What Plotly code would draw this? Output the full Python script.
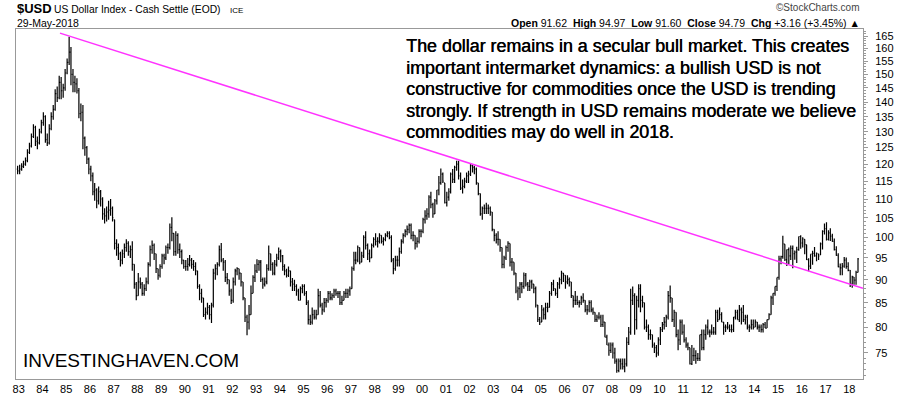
import numpy as np
import pandas as pd
import plotly.graph_objects as go

# ---------------- data (monthly bars, Dec-1982 .. May-2018) ----------------
START_MONTH = "1982-12"
FIRST_OPEN = 118.5

CLOSE = [
    118.0,
    118.5, 119.3, 120.0, 121.0, 123.5, 125.5, 128.5, 131.5, 127.0, 126.5, 130.0, 133.0,  # 1983
    135.0, 127.5, 126.5, 131.0, 135.0, 137.5, 143.0, 141.5, 147.0, 144.0, 145.0, 150.5,  # 1984
    154.5, 158.5, 150.0, 147.0, 146.5, 144.0, 136.0, 136.5, 128.0, 125.0, 121.5, 118.5,  # 1985
    116.5, 112.0, 112.5, 109.5, 112.0, 110.0, 106.0, 105.5, 106.5, 107.0, 107.5, 105.0,  # 1986
    98.5, 97.5, 96.0, 94.5, 96.0, 97.5, 98.5, 96.5, 97.0, 93.5, 89.0, 86.5,              # 1987
    89.5, 89.0, 87.0, 88.0, 89.5, 93.5, 97.0, 98.0, 96.0, 92.5, 91.0, 93.0,              # 1988
    95.5, 95.0, 97.5, 97.5, 102.5, 101.0, 96.5, 100.5, 97.0, 96.5, 94.5, 93.0,           # 1989
    93.0, 93.5, 94.5, 93.5, 93.0, 92.0, 88.5, 87.0, 86.0, 82.5, 83.0, 84.0,              # 1990
    82.5, 84.5, 91.5, 92.5, 93.5, 97.0, 94.5, 94.0, 90.5, 90.0, 87.5, 85.5,              # 1991
    89.5, 92.0, 92.5, 91.5, 89.5, 86.0, 82.0, 81.0, 82.5, 87.0, 90.5, 92.0,              # 1992
    93.5, 94.0, 90.0, 89.0, 89.5, 92.5, 96.0, 93.5, 91.5, 93.5, 95.0, 96.5,              # 1993
    95.5, 93.0, 92.0, 91.0, 92.0, 89.5, 89.0, 88.5, 87.5, 85.5, 88.0, 88.5,              # 1994
    87.0, 85.0, 81.5, 81.0, 82.5, 82.0, 82.5, 86.5, 84.5, 83.5, 85.0, 85.5,              # 1995
    87.0, 86.0, 86.5, 87.5, 87.0, 87.0, 85.0, 85.5, 87.0, 87.0, 87.5, 88.0,              # 1996
    92.5, 94.5, 94.5, 97.5, 94.0, 95.5, 100.0, 98.0, 96.0, 95.0, 98.0, 99.5,             # 1997
    99.0, 99.0, 100.5, 99.0, 99.5, 100.5, 101.0, 100.0, 94.5, 92.5, 94.5, 94.5,          # 1998
    96.5, 99.0, 100.5, 101.5, 102.0, 103.0, 100.5, 100.5, 98.5, 99.0, 101.5, 101.5,      # 1999
    104.5, 105.5, 106.0, 110.5, 108.5, 106.0, 109.5, 112.5, 114.5, 117.0, 115.0, 109.0,  # 2000
    110.5, 112.0, 117.0, 115.5, 119.0, 120.0, 116.5, 113.0, 113.5, 115.0, 116.5, 117.0,  # 2001
    119.5, 119.0, 118.5, 114.5, 111.5, 106.0, 107.5, 107.5, 107.5, 107.5, 106.5, 102.0,  # 2002
    100.5, 99.5, 99.5, 97.5, 93.5, 95.0, 97.5, 98.5, 94.0, 94.0, 91.5, 87.5,             # 2003
    88.0, 89.0, 88.5, 91.0, 89.0, 88.5, 89.5, 89.0, 88.0, 84.5, 81.5, 81.0,              # 2004
    83.5, 82.5, 84.0, 84.0, 87.0, 89.0, 88.0, 87.0, 89.0, 90.0, 91.5, 91.0,              # 2005
    89.5, 90.0, 89.5, 86.5, 85.5, 85.5, 85.0, 85.0, 86.0, 85.5, 83.5, 83.5,              # 2006
    85.0, 83.5, 83.0, 81.5, 82.0, 82.0, 80.5, 81.0, 78.0, 76.5, 75.5, 76.5,              # 2007
    75.0, 73.5, 71.8, 73.5, 73.0, 72.5, 73.0, 77.0, 79.0, 85.5, 86.5, 81.5,              # 2008
    85.5, 88.0, 85.5, 85.0, 80.0, 80.0, 78.5, 78.5, 76.5, 76.0, 75.0, 77.5,              # 2009
    79.5, 80.5, 81.0, 82.0, 86.5, 86.0, 81.5, 83.0, 78.5, 77.5, 81.0, 79.0,              # 2010
    77.5, 76.5, 76.0, 73.0, 74.5, 74.5, 74.0, 74.0, 78.5, 76.0, 78.5, 80.0,              # 2011
    79.0, 79.0, 79.0, 79.0, 83.0, 81.5, 82.5, 81.0, 80.0, 80.0, 80.0, 79.5,              # 2012
    79.5, 82.0, 83.0, 81.5, 83.5, 83.0, 81.5, 82.0, 80.0, 80.0, 80.5, 80.0,              # 2013
    81.0, 80.0, 80.0, 79.5, 80.5, 79.8, 81.5, 82.5, 86.0, 87.0, 88.5, 90.5,              # 2014
    94.8, 95.3, 98.4, 94.6, 97.0, 95.5, 97.3, 96.0, 96.4, 97.0, 100.2, 98.6,             # 2015
    99.6, 98.2, 94.6, 93.1, 95.9, 96.1, 95.5, 96.0, 95.4, 98.4, 101.5, 102.2,            # 2016
    99.5, 101.1, 100.3, 99.0, 97.0, 95.6, 92.9, 92.7, 93.1, 94.5, 93.0, 92.1,            # 2017
    89.1, 90.6, 89.9, 91.62, 94.79,                                                      # 2018
]

HIGH = [
    119.5,
    119.8, 120.2, 121.0, 122.0, 124.5, 126.5, 129.5, 132.5, 132.0, 128.5, 131.0, 134.0,
    136.5, 135.5, 129.5, 132.5, 136.5, 139.0, 144.5, 145.5, 149.5, 149.0, 146.5, 152.0,
    156.0, 164.7, 160.5, 152.0, 149.5, 148.5, 145.0, 139.5, 139.0, 128.5, 125.5, 122.0,
    119.5, 117.5, 114.5, 113.0, 113.5, 112.5, 110.5, 107.5, 108.0, 109.5, 110.0, 108.0,
    104.5, 99.5, 98.5, 96.5, 97.0, 98.5, 99.5, 99.0, 98.0, 99.0, 93.5, 89.5,
    91.5, 90.5, 89.5, 89.0, 90.5, 94.0, 98.0, 99.2, 98.5, 96.0, 92.5, 93.5,
    96.0, 96.0, 98.0, 98.5, 103.5, 105.1, 101.0, 101.5, 101.0, 98.5, 97.0, 94.5,
    94.5, 95.0, 95.7, 95.0, 94.5, 94.0, 92.0, 89.0, 88.0, 86.0, 84.0, 85.0,
    84.5, 85.0, 92.5, 93.5, 94.0, 98.0, 98.6, 95.0, 94.5, 91.5, 90.0, 88.0,
    90.5, 92.5, 92.8, 92.5, 91.5, 89.5, 86.0, 82.5, 84.5, 88.7, 91.0, 93.5,
    94.7, 94.5, 94.5, 90.5, 90.5, 93.5, 98.0, 96.0, 94.0, 94.5, 96.0, 97.5,
    97.0, 95.7, 93.5, 92.5, 93.0, 92.0, 90.4, 90.0, 89.0, 88.0, 88.5, 89.0,
    89.0, 87.5, 85.5, 82.5, 84.0, 83.5, 83.5, 88.0, 87.5, 85.0, 86.0, 86.0,
    87.5, 87.5, 87.0, 88.0, 88.0, 87.5, 87.5, 86.5, 87.5, 88.0, 88.0, 88.5,
    93.0, 96.5, 96.5, 98.0, 97.5, 96.5, 100.5, 101.5, 98.5, 97.0, 98.5, 100.0,
    101.0, 100.0, 101.0, 100.5, 100.0, 101.0, 101.5, 101.5, 100.5, 95.0, 95.5, 95.5,
    97.5, 99.5, 101.0, 102.0, 103.0, 103.5, 103.5, 101.5, 100.5, 100.0, 102.0, 102.0,
    105.0, 107.0, 107.5, 111.0, 112.0, 109.0, 110.0, 112.5, 116.5, 118.7, 117.5, 114.5,
    112.0, 113.0, 117.5, 118.5, 119.5, 121.0, 121.0, 117.5, 115.5, 116.0, 117.5, 118.0,
    120.2, 120.0, 119.5, 119.0, 114.5, 111.5, 108.0, 108.5, 109.0, 108.5, 108.0, 106.5,
    102.0, 101.0, 101.5, 99.5, 97.5, 95.5, 98.0, 99.0, 98.5, 95.0, 94.0, 91.5,
    88.5, 89.5, 89.5, 91.6, 91.5, 89.5, 90.0, 90.0, 89.0, 88.5, 84.5, 82.0,
    84.5, 84.0, 85.0, 85.0, 87.5, 89.5, 90.0, 88.0, 89.5, 90.5, 92.0, 91.5,
    91.0, 91.0, 90.5, 89.5, 86.5, 87.5, 86.5, 85.5, 86.5, 87.0, 85.5, 84.5,
    85.5, 85.5, 84.0, 83.0, 82.5, 83.0, 82.5, 82.5, 81.0, 78.5, 77.0, 77.0,
    77.0, 76.0, 74.0, 74.0, 74.0, 74.0, 74.0, 78.0, 80.0, 88.0, 88.5, 87.0,
    86.5, 89.0, 89.0, 86.5, 85.0, 81.5, 80.5, 79.5, 78.5, 77.0, 76.5, 78.0,
    80.0, 81.0, 82.0, 82.5, 87.5, 88.7, 86.0, 83.5, 83.0, 79.5, 81.5, 81.5,
    80.5, 78.0, 77.0, 76.0, 76.5, 76.0, 75.5, 75.0, 78.5, 79.5, 79.5, 80.5,
    81.5, 79.5, 80.5, 80.0, 83.5, 83.5, 84.0, 83.0, 81.0, 80.5, 81.0, 80.5,
    80.5, 82.0, 83.5, 83.5, 84.5, 84.0, 84.5, 82.5, 82.5, 80.5, 81.5, 81.5,
    81.5, 81.0, 80.5, 80.5, 80.8, 81.0, 81.5, 82.8, 86.5, 87.0, 88.5, 90.5,
    95.5, 95.5, 100.4, 98.3, 97.0, 97.5, 98.0, 98.0, 96.8, 97.7, 100.2, 100.5,
    100.0, 99.5, 98.2, 94.9, 95.9, 96.7, 97.6, 96.3, 96.0, 98.7, 101.8, 103.5,
    103.8, 101.8, 102.3, 100.9, 99.7, 97.8, 96.1, 93.7, 93.8, 95.2, 95.1, 94.0,
    92.2, 90.9, 90.6, 92.0, 94.97,
]

LOW = [
    117.0,
    117.0, 118.0, 118.8, 119.5, 120.5, 123.0, 125.0, 128.0, 125.5, 124.5, 126.0, 129.5,
    132.0, 126.5, 125.5, 126.0, 130.5, 134.0, 137.0, 140.0, 141.0, 141.0, 141.5, 144.0,
    150.0, 153.5, 146.0, 143.5, 143.5, 143.0, 134.5, 133.5, 124.5, 122.5, 120.0, 117.0,
    115.0, 111.0, 109.5, 107.5, 108.5, 108.0, 104.5, 103.5, 104.0, 104.5, 105.5, 104.0,
    97.0, 95.5, 94.5, 93.0, 93.5, 95.0, 96.5, 95.5, 95.0, 92.0, 88.0, 85.5,
    86.5, 88.0, 86.5, 86.5, 87.5, 89.0, 93.0, 96.0, 94.5, 91.5, 90.0, 90.5,
    92.5, 93.5, 94.5, 96.0, 97.0, 99.0, 95.5, 95.5, 96.0, 95.0, 93.5, 92.5,
    92.0, 92.0, 93.0, 92.5, 92.0, 91.0, 88.0, 85.5, 85.0, 82.0, 81.5, 82.5,
    81.5, 80.8, 84.0, 90.0, 91.0, 93.0, 94.0, 92.0, 89.5, 89.0, 86.5, 84.7,
    85.0, 88.7, 91.0, 90.0, 88.5, 85.5, 81.0, 78.4, 79.5, 82.5, 87.0, 89.5,
    91.5, 92.0, 89.5, 88.0, 88.5, 89.0, 92.0, 92.0, 91.0, 91.0, 93.0, 94.5,
    94.0, 92.0, 91.0, 90.5, 90.6, 88.5, 87.5, 87.5, 86.5, 85.5, 85.5, 87.0,
    86.5, 84.5, 80.5, 80.4, 80.5, 81.5, 81.5, 82.5, 84.0, 82.5, 83.0, 84.0,
    85.0, 85.5, 85.5, 86.0, 86.5, 86.0, 84.5, 84.5, 85.5, 86.0, 86.0, 86.5,
    88.0, 92.0, 93.5, 94.0, 93.5, 94.0, 95.0, 97.0, 94.5, 94.0, 95.0, 97.5,
    98.0, 97.5, 98.5, 98.5, 98.0, 99.0, 100.0, 99.5, 94.0, 91.2, 92.0, 93.0,
    93.0, 96.0, 98.5, 100.0, 100.5, 101.0, 99.5, 99.0, 97.0, 97.5, 98.5, 100.0,
    101.0, 103.5, 104.5, 105.0, 107.5, 105.0, 106.0, 108.5, 111.0, 114.0, 114.5, 108.8,
    108.0, 109.5, 111.5, 114.5, 114.5, 118.0, 115.5, 112.5, 111.5, 113.0, 114.5, 114.5,
    116.5, 117.5, 117.0, 114.0, 111.0, 105.5, 104.5, 106.0, 106.0, 106.0, 105.5, 101.5,
    99.0, 98.5, 98.0, 96.5, 92.6, 92.6, 94.5, 96.5, 93.0, 92.0, 91.0, 87.0,
    85.5, 86.0, 87.0, 88.0, 88.5, 87.5, 87.5, 88.0, 87.0, 84.0, 81.0, 80.4,
    81.0, 81.5, 81.5, 83.0, 84.0, 86.5, 87.5, 86.5, 86.0, 88.0, 89.0, 89.5,
    88.0, 89.0, 88.5, 86.0, 84.0, 84.5, 84.5, 84.0, 84.5, 85.0, 83.0, 82.5,
    83.0, 83.0, 82.5, 81.0, 81.0, 81.5, 80.0, 80.0, 78.0, 76.5, 74.5, 75.0,
    74.0, 73.0, 71.4, 71.5, 72.0, 72.0, 71.5, 72.5, 76.5, 78.5, 84.5, 78.5,
    79.5, 84.0, 83.0, 84.0, 79.5, 79.0, 77.5, 77.5, 76.0, 75.0, 74.2, 74.5,
    76.5, 79.0, 79.5, 80.0, 81.5, 85.0, 81.0, 80.0, 78.0, 75.5, 76.5, 78.5,
    77.0, 76.0, 75.5, 72.9, 72.8, 73.5, 73.0, 73.5, 73.5, 75.5, 75.5, 77.5,
    78.5, 78.0, 78.5, 78.5, 78.5, 81.0, 81.5, 81.0, 78.5, 79.0, 79.5, 79.0,
    78.9, 79.0, 81.5, 81.5, 81.0, 80.5, 81.0, 80.5, 79.5, 79.0, 79.5, 79.5,
    80.0, 79.5, 79.0, 78.9, 78.9, 79.8, 79.8, 81.5, 82.5, 84.5, 86.5, 87.5,
    90.0, 93.5, 94.8, 94.3, 93.1, 93.5, 94.5, 92.6, 94.6, 93.8, 96.7, 97.2,
    97.5, 95.9, 94.5, 91.9, 92.4, 93.4, 95.3, 94.2, 94.5, 95.7, 97.0, 100.7,
    99.2, 99.2, 99.1, 98.9, 96.8, 95.5, 92.8, 91.0, 91.0, 92.7, 92.5, 91.9,
    88.4, 88.2, 88.9, 88.9, 91.60,
]

YEAR_TICKS = list(range(1983, 2019))
Y_TICKS = list(range(75, 170, 5))

# Trend line (resistance) endpoints
TREND_DATES = ["1984-09-27", "2018-07-31"]
TREND_VALUES = [166.2, 88.1]

NOTE_LINES = [
    "The dollar remains in a secular bull market. This creates",
    "important intermarket dynamics: a bullish USD is not",
    "constructive for commodities once the USD is trending",
    "strongly. If strength in USD remains moderate we believe",
    "commodities may do well in 2018.",
]

# ---------------- build ----------------
n = len(CLOSE)
dates = pd.date_range(START_MONTH + "-01", periods=n, freq="MS") + pd.Timedelta(days=14)
close = np.array(CLOSE)
high = np.array(HIGH)
low = np.array(LOW)
opens = np.concatenate([[FIRST_OPEN], close[:-1]])
opens = np.clip(opens, low, high)

FONT = "Arial, 'Liberation Sans', sans-serif"

fig = go.Figure()
fig.add_trace(go.Ohlc(
    x=dates, open=opens, high=high, low=low, close=close,
    increasing=dict(line=dict(color="black", width=1.2)),
    decreasing=dict(line=dict(color="black", width=1.2)),
    tickwidth=0.45, hoverinfo="skip", showlegend=False,
))
fig.add_trace(go.Scatter(
    x=TREND_DATES, y=TREND_VALUES, mode="lines",
    line=dict(color="#ff33ff", width=1.5), hoverinfo="skip", showlegend=False,
))

W, H = 900, 396
L, R, T, B = 16, 863, 29, 379


def px(xp):
    return (xp - L) / (R - L)


def py(yp):
    return (B - yp) / (B - T)


ann = []
ann.append(dict(x=px(15), y=py(9), text="<b>$USD</b>", font=dict(size=13, family=FONT, color="black"),
                xanchor="left", yanchor="middle"))
ann.append(dict(x=px(52), y=py(9.5), text="US Dollar Index - Cash Settle (EOD)",
                font=dict(size=10.3, family=FONT, color="black"), xanchor="left", yanchor="middle"))
ann.append(dict(x=px(228), y=py(10), text="ICE", font=dict(size=8, family=FONT, color="black"),
                xanchor="left", yanchor="middle"))
ann.append(dict(x=px(15), y=py(23), text="29-May-2018", font=dict(size=10.5, family=FONT, color="black"),
                xanchor="left", yanchor="middle"))
ann.append(dict(x=px(862), y=py(8), text="\u00a9StockCharts.com",
                font=dict(size=10, family=FONT, color="#444"), xanchor="right", yanchor="middle"))
ann.append(dict(x=px(862), y=py(23),
                text="<b>Open</b> 91.62  <b>High</b> 94.97  <b>Low</b> 91.60  <b>Close</b> 94.79  "
                     "<b>Chg</b> +3.16 (+3.45%) \u25b2",
                font=dict(size=10.5, family=FONT, color="black"), xanchor="right", yanchor="middle"))
for i, line in enumerate(NOTE_LINES):
    ann.append(dict(x=px(404), y=py(46 + i * 21.6), text=line,
                    font=dict(size=17.85, family=FONT, color="black", shadow="0.5px 0px 0px black"),
                    xanchor="left", yanchor="middle"))
ann.append(dict(x=px(21), y=py(360), text="INVESTINGHAVEN.COM",
                font=dict(size=19, family=FONT, color="black"), xanchor="left", yanchor="middle"))
for a in ann:
    a.update(xref="paper", yref="paper", showarrow=False)

fig.update_layout(
    width=W, height=H,
    margin=dict(l=L, r=W - R, t=T, b=H - B, autoexpand=False),
    paper_bgcolor="white", plot_bgcolor="white",
    showlegend=False,
    annotations=ann,
    xaxis=dict(
        type="date",
        range=["1982-11-20", "2018-07-31"],
        rangeslider=dict(visible=False),
        tickvals=[f"{y}-01-01" for y in YEAR_TICKS],
        ticktext=[f"{y % 100:02d}" for y in YEAR_TICKS],
        tickfont=dict(size=11, family=FONT, color="black"),
        showgrid=False, zeroline=False, automargin=False,
        showline=True, linecolor="#999999", linewidth=1, mirror=True,
        ticks="", fixedrange=True,
    ),
    yaxis=dict(
        type="log",
        side="right",
        range=[np.log10(70.3), np.log10(167.9)],
        tickvals=Y_TICKS,
        ticktext=[str(v) for v in Y_TICKS],
        tickfont=dict(size=11, family=FONT, color="black"),
        showgrid=False, zeroline=False, automargin=False,
        showline=True, linecolor="#999999", linewidth=1, mirror=True,
        ticks="outside", ticklen=4, tickcolor="#999999",
        ticklabelstandoff=5,
        minor=dict(tickvals=list(range(71, 168)), ticks="outside", ticklen=2, tickcolor="#999999"),
        fixedrange=True,
    ),
)

fig.write_html(
    "out.html",
    config={"displayModeBar": False},
    post_script="document.body.style.margin='0';document.body.style.overflow='hidden';",
)
